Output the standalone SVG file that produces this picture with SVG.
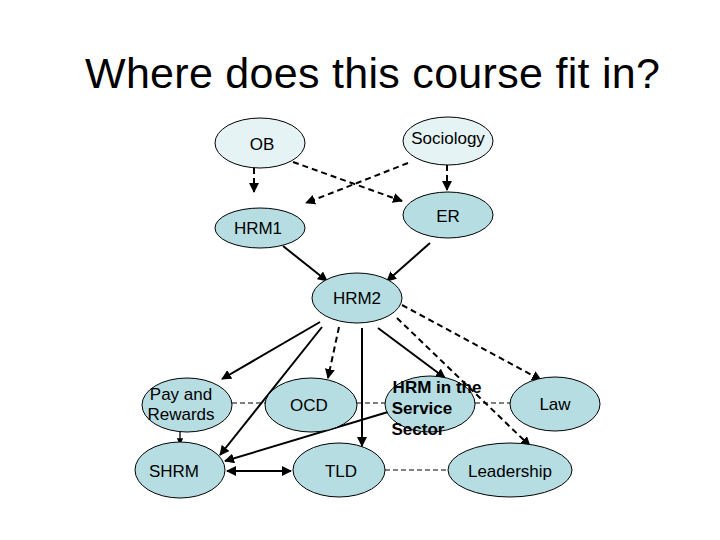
<svg xmlns="http://www.w3.org/2000/svg" width="720" height="540" viewBox="0 0 720 540">
<style>
.n ellipse{stroke:#000;stroke-width:1}
.lt{fill:#e6f3f4}.dk{fill:#b6dde1}
text{font-family:"Liberation Sans",Arial,sans-serif;font-size:17px;text-anchor:middle}
.c line{stroke:#000;stroke-width:2}
.c .d{stroke-dasharray:6,4}
.c .t{stroke-width:1;stroke-dasharray:5,3}
.c .s{stroke-width:1.3}
</style>
<defs>
<marker id="a" viewBox="0 0 10 10" refX="9" refY="5" markerWidth="5" markerHeight="5" orient="auto-start-reverse"><path d="M0,0L10,5L0,10z"/></marker>
</defs>
<rect width="720" height="540" fill="#fff"/>
<text x="85" y="88" textLength="575" style="font-size:43px;text-anchor:start">Where does this course fit in?</text>
<g class="c">
<line class="t" x1="232" y1="403" x2="265" y2="403"/>
<line class="t" x1="357" y1="403" x2="385" y2="403"/>
<line class="t" x1="475" y1="403" x2="510" y2="403"/>
<line class="t" x1="385" y1="470" x2="448" y2="470"/>
<line class="d" x1="254" y1="168" x2="254" y2="192" marker-end="url(#a)"/>
<line class="d" x1="447" y1="165" x2="447" y2="190" marker-end="url(#a)"/>
<line class="d" x1="293" y1="162" x2="402" y2="201" marker-end="url(#a)"/>
<line class="d" x1="408" y1="163" x2="306" y2="203" marker-end="url(#a)"/>
<line x1="283" y1="246" x2="327" y2="281" marker-end="url(#a)"/>
<line x1="430" y1="243" x2="387" y2="281" marker-end="url(#a)"/>
<line x1="320" y1="322" x2="222" y2="379" marker-end="url(#a)"/>
<line x1="322" y1="327" x2="220" y2="455" marker-end="url(#a)"/>
<line class="d" x1="339" y1="327" x2="328" y2="378" marker-end="url(#a)"/>
<line x1="362" y1="328" x2="362" y2="446" marker-end="url(#a)"/>
<line x1="378" y1="328" x2="445" y2="378" marker-end="url(#a)"/>
<line class="d" x1="402" y1="305" x2="541" y2="380" marker-end="url(#a)"/>
<line class="d" x1="397" y1="318" x2="530" y2="446" marker-end="url(#a)"/>
<line x1="388" y1="412" x2="225" y2="461" marker-end="url(#a)"/>
<line class="s" x1="180" y1="431" x2="180" y2="444" marker-end="url(#a)"/>
<line x1="227" y1="471" x2="291" y2="471" marker-start="url(#a)" marker-end="url(#a)"/>
</g>
<g id="ob" class="n"><ellipse class="lt" cx="260" cy="143" rx="45" ry="25"/><text x="262" y="150">OB</text></g>
<g id="soc" class="n"><ellipse class="lt" cx="448" cy="141" rx="45" ry="24"/><text x="448" y="144">Sociology</text></g>
<g id="hrm1" class="n"><ellipse class="dk" cx="260" cy="228" rx="45" ry="20"/><text x="258" y="234">HRM1</text></g>
<g id="er" class="n"><ellipse class="dk" cx="448" cy="215" rx="45" ry="23"/><text x="448" y="222">ER</text></g>
<g id="hrm2" class="n"><ellipse class="dk" cx="357" cy="298" rx="45" ry="25"/><text x="357" y="304">HRM2</text></g>
<g id="pay" class="n"><ellipse class="dk" cx="187" cy="405" rx="45" ry="27"/><text x="181" y="400">Pay and</text><text x="181" y="420">Rewards</text></g>
<g id="ocd" class="n"><ellipse class="dk" cx="311" cy="405" rx="46" ry="27"/><text x="309" y="411">OCD</text></g>
<g id="hrms" class="n"><ellipse class="dk" cx="430" cy="404" rx="45" ry="28"/><text x="437" y="393" style="font-weight:bold">HRM in the</text><text x="422" y="414" style="font-weight:bold">Service</text><text x="418" y="435" style="font-weight:bold">Sector</text></g>
<g id="law" class="n"><ellipse class="dk" cx="555" cy="404" rx="45" ry="27"/><text x="555" y="410">Law</text></g>
<g id="shrm" class="n"><ellipse class="dk" cx="180" cy="470" rx="45" ry="28"/><text x="174" y="477">SHRM</text></g>
<g id="tld" class="n"><ellipse class="dk" cx="339" cy="470" rx="46" ry="27"/><text x="341" y="477">TLD</text></g>
<g id="lead" class="n"><ellipse class="dk" cx="510" cy="470" rx="62" ry="27"/><text x="510" y="477">Leadership</text></g>
</svg>
